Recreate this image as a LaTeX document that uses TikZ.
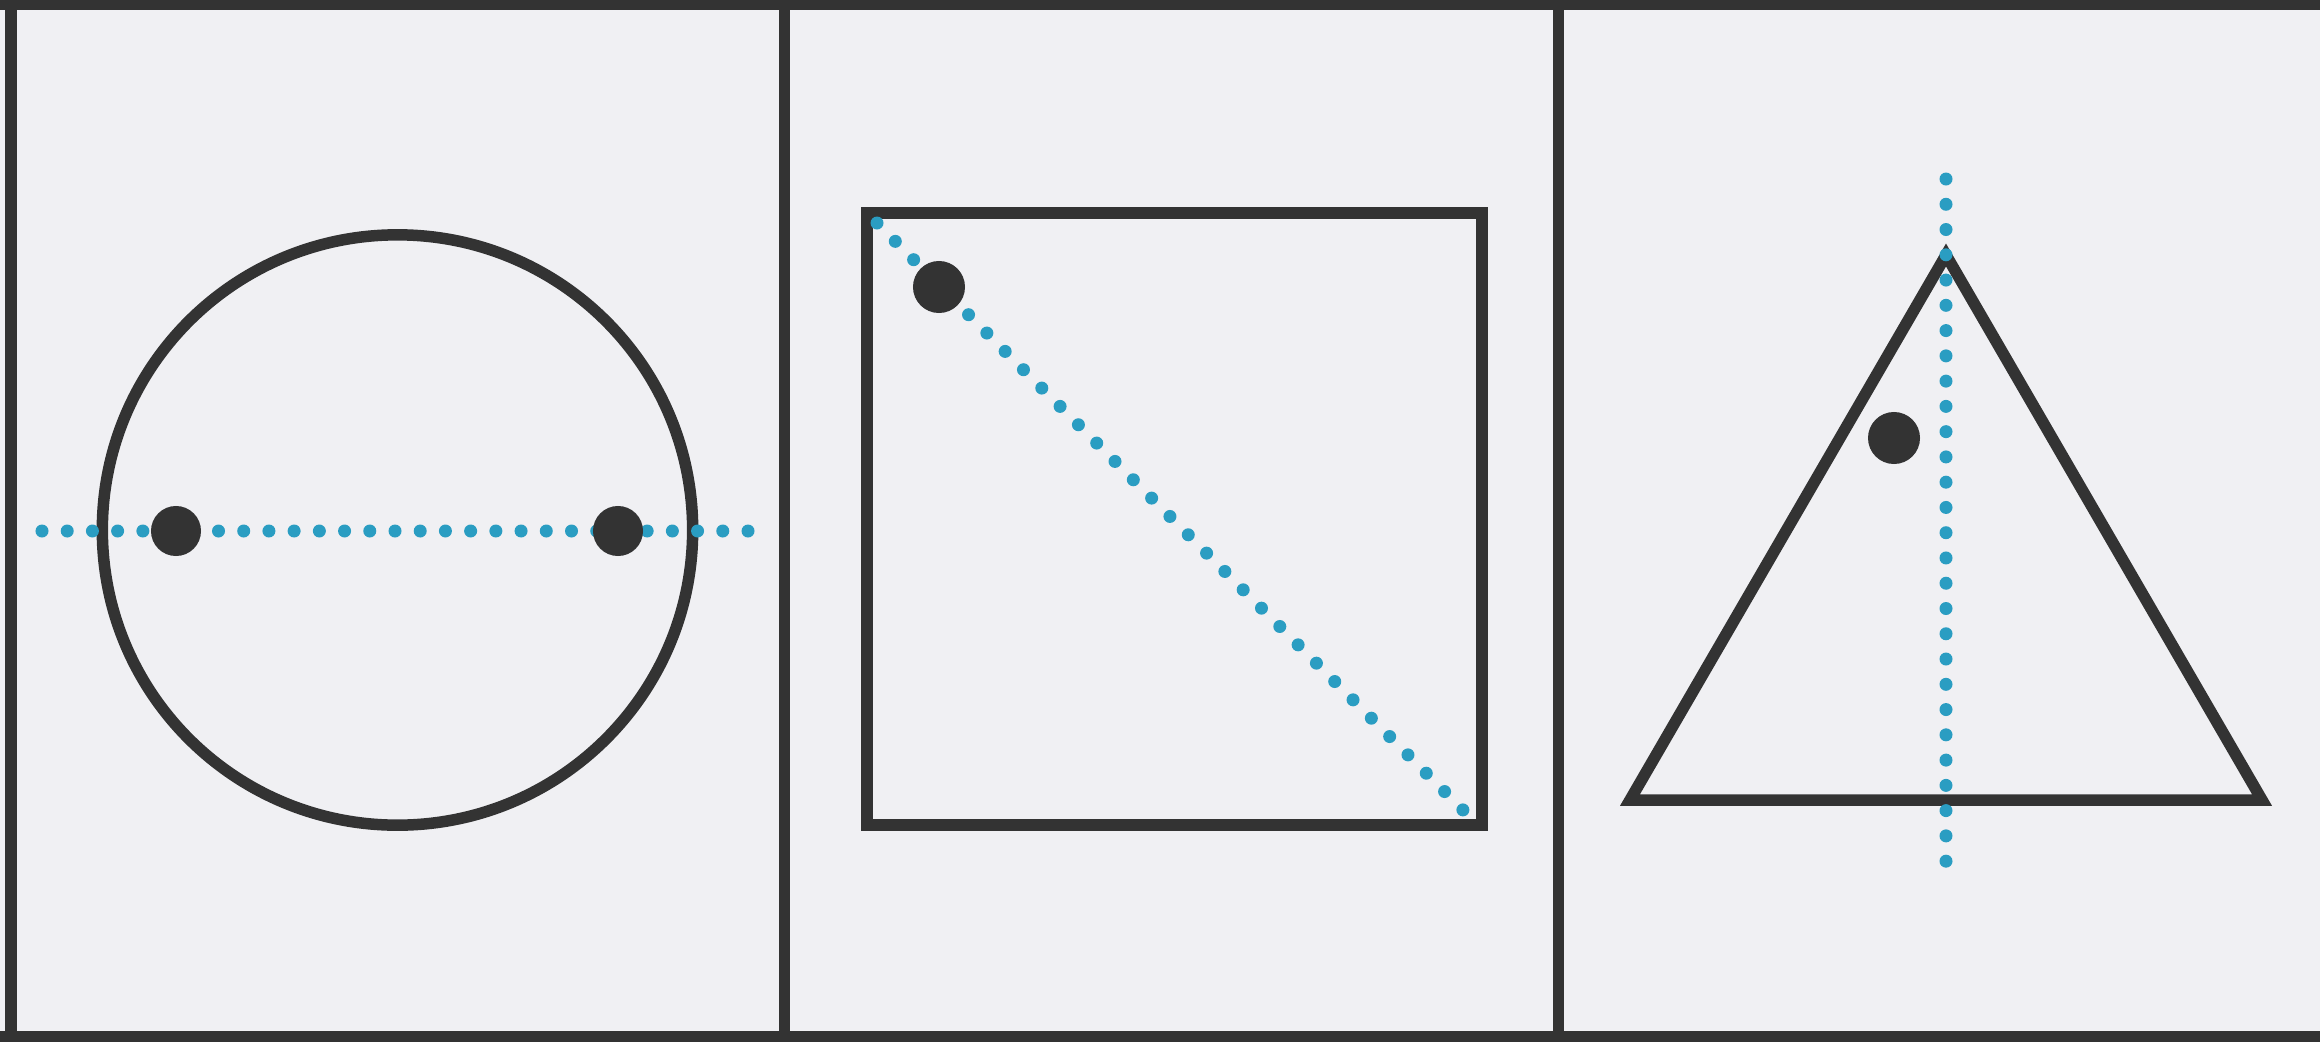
\documentclass[tikz,border=0pt]{standalone}
\definecolor{bg}{HTML}{F0F0F3}
\definecolor{ink}{HTML}{333333}
\definecolor{dotc}{HTML}{2A9DC2}
\begin{document}
\begin{tikzpicture}[x=0.01cm,y=-0.01cm,
  frame/.style={draw=ink,line width=0.11cm},
  outline/.style={draw=ink,line width=0.115cm,line join=miter},
  dotline/.style={draw=dotc,line width=0.13cm,line cap=round,dash pattern=on 0pt off #1},
  blob/.style={fill=ink}]
\fill[bg] (0,0) rectangle (2320,1042);
\useasboundingbox (0,0) rectangle (2320,1042);
% panel frame
\draw[frame] (0,4) -- (2320,4);
\draw[frame] (0,1036) -- (2320,1036);
\draw[frame] (11,0) -- (11,1042);
\draw[frame] (784,0) -- (784,1042);
\draw[frame] (1558,0) -- (1558,1042);
% panel 1: circle
\coordinate (cc) at (397.5,530);
\draw[outline] (cc) circle[radius=2.95cm];
\coordinate (l1) at (42,531);
\coordinate (l2) at (752,531);
\draw[dotline=0.2520cm] (l1) -- (l2);
\fill[blob] (176,531) circle[radius=0.25cm];
\fill[blob] (618,531) circle[radius=0.25cm];
% panel 2: square
\draw[outline] (867,213) rectangle (1482,825);
\coordinate (d1) at (877,223);
\coordinate (d2) at (1468,815);
\draw[dotline=0.259cm] (d1) -- (d2);
\fill[blob] (939,287) circle[radius=0.26cm];
% panel 3: triangle
\draw[outline] (1946,255) -- (2262,800) -- (1630,800) -- cycle;
\coordinate (v1) at (1946,179);
\coordinate (v2) at (1946,865);
\draw[dotline=0.2525cm] (v1) -- (v2);
\fill[blob] (1894,438) circle[radius=0.26cm];
\end{tikzpicture}
\end{document}
